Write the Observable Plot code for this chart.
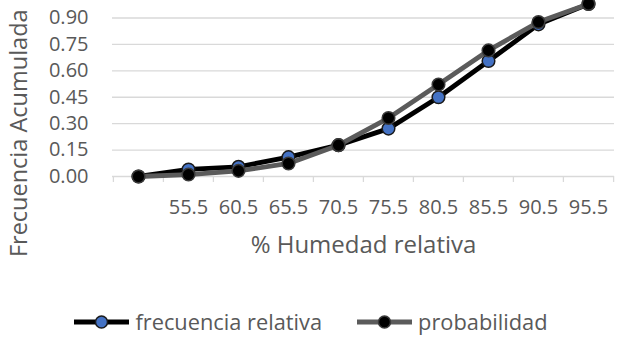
<!DOCTYPE html>
<html>
<head>
<meta charset="utf-8">
<script src="https://cdn.jsdelivr.net/npm/d3@7"></script>
<script src="https://cdn.jsdelivr.net/npm/@observablehq/plot@0.6"></script>
<style>
  body { margin: 0; background: #fff; }
  #chart { position: relative; width: 621px; height: 341px; overflow: hidden; font-family: "Open Sans", sans-serif; color: #595959; }
  #chart svg.plot { display: block; }
  .legend { position: absolute; left: 0; width: 621px; top: 308px; height: 28px; display: flex; justify-content: center; align-items: center; font-size: 21.8px; line-height: 28px; }
  .legend .item { display: flex; align-items: center; }
  .legend .item + .item { margin-left: 34px; }
  .legend svg { margin-right: 5px; }
</style>
</head>
<body>
<div id="chart"></div>
<script>
// Humidity classes (first class is unlabelled on the axis)
const humedad = ["", "55.5", "60.5", "65.5", "70.5", "75.5", "80.5", "85.5", "90.5", "95.5"];
// Cumulative relative frequency observed
const frecuencia = [0, 0.04, 0.055, 0.11, 0.178, 0.272, 0.45, 0.656, 0.864, 0.98];
// Cumulative probability from the fitted distribution
const probabilidad = [0, 0.011, 0.032, 0.074, 0.178, 0.332, 0.522, 0.716, 0.877, 0.98];
// Y axis ticks
const yTicks = [0, 0.15, 0.30, 0.45, 0.60, 0.75, 0.90];

const series = [
  { name: "frecuencia relativa", values: frecuencia, line: "#000000", fill: "#4472c4", stroke: "#1a1a1a" },
  { name: "probabilidad", values: probabilidad, line: "#5b5b5b", fill: "#000000", stroke: "#3a3a3a" }
];

const rows = series.flatMap(s => humedad.map((h, i) => ({ serie: s.name, h, v: s.values[i] })));

const width = 621, height = 275;
const marginLeft = 112, marginRight = 7, marginTop = 17.5, marginBottom = 99;
const band = (width - marginLeft - marginRight) / humedad.length;

const marks = [
  Plot.gridY(yTicks, { stroke: "#d9d9d9", strokeOpacity: 1, strokeWidth: 1.3 }),
  // category boundary tick marks below the baseline
  Plot.ruleX(humedad, { x: d => d, y1: 0, y2: 0, insetBottom: -6, dx: -band / 2, stroke: "#d9d9d9", strokeWidth: 1.3 }),
  Plot.ruleX(humedad.slice(-1), { x: d => d, y1: 0, y2: 0, insetBottom: -6, dx: band / 2, stroke: "#d9d9d9", strokeWidth: 1.3 }),
  Plot.axisY(yTicks, {
    tickSize: 0, tickPadding: 24, tickFormat: d => d.toFixed(2), fontSize: 20,
    label: null
  }),
  Plot.axisX({ tickSize: 0, tickPadding: 23, fontSize: 20, label: null }),
  Plot.text(["Frecuencia Acumulada"], { frameAnchor: "left", textAnchor: "middle", rotate: -90, dx: -93, dy: 36, fontSize: 23.5, fill: "#595959" }),
  Plot.text(["% Humedad relativa"], { frameAnchor: "bottom", dy: 76, fontSize: 24, fill: "#595959" })
];

for (const s of series) {
  const data = rows.filter(d => d.serie === s.name);
  marks.push(
    Plot.line(data, { x: "h", y: "v", stroke: s.line, strokeWidth: 4.8, strokeLinejoin: "round", strokeLinecap: "round" }),
    Plot.dot(data, { x: "h", y: "v", r: 6.3, fill: s.fill, stroke: s.stroke, strokeWidth: 1.5 })
  );
}

const plot = Plot.plot({
  width, height, marginLeft, marginRight, marginTop, marginBottom,
  style: { fontFamily: "Open Sans, sans-serif", color: "#595959", background: "#fff", overflow: "visible" },
  x: { type: "point", domain: humedad, padding: 0.5 },
  y: { domain: [0, 0.9] },
  marks
});

const chart = document.getElementById("chart");
chart.appendChild(plot);

// Legend below the chart
const legend = document.createElement("div");
legend.className = "legend";
for (const s of series) {
  const item = document.createElement("div");
  item.className = "item";
  item.innerHTML =
    `<svg width="57" height="16" viewBox="0 0 57 16">` +
    `<line x1="1" y1="8" x2="56" y2="8" stroke="${s.line}" stroke-width="5"/>` +
    `<circle cx="28.5" cy="8" r="6" fill="${s.fill}" stroke="${s.stroke}" stroke-width="1.5"/>` +
    `</svg><span>${s.name}</span>`;
  legend.appendChild(item);
}
chart.appendChild(legend);
</script>
</body>
</html>
